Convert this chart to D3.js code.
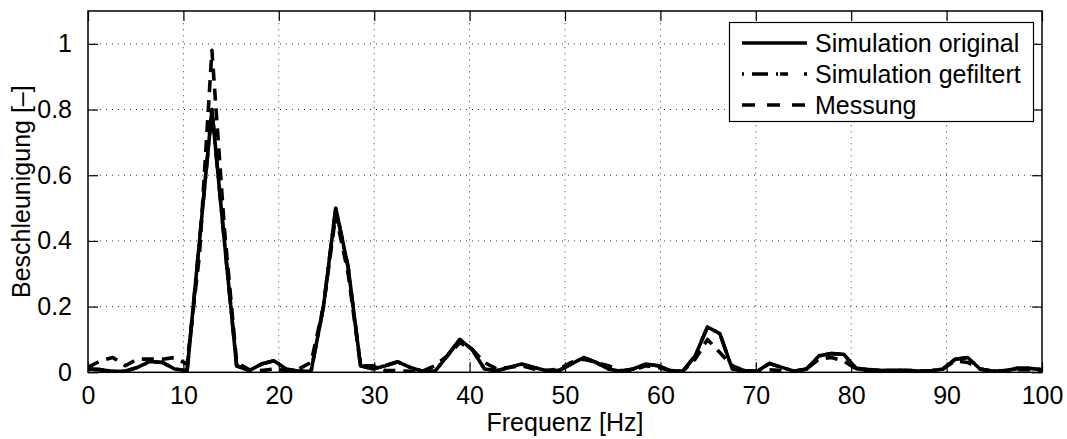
<!DOCTYPE html>
<html>
<head>
<meta charset="utf-8">
<script src="https://cdn.jsdelivr.net/npm/d3@7"></script>
<style>
  html, body { margin: 0; padding: 0; background: #fff; }
  svg { display: block; font-family: "Liberation Sans", Arial, sans-serif; }
</style>
</head>
<body>
<svg id="chart" width="1067" height="439"></svg>
<script>
const freq = [0, 1.30, 2.60, 3.90, 5.19, 6.49, 7.79, 9.09, 10.39, 11.69,
  12.99, 14.29, 15.58, 16.88, 18.18, 19.48, 20.78, 22.08, 23.38, 24.68,
  25.97, 27.27, 28.57, 29.87, 31.17, 32.47, 33.77, 35.06, 36.36, 37.66,
  38.96, 40.26, 41.56, 42.86, 44.16, 45.45, 46.75, 48.05, 49.35, 50.65,
  51.95, 53.25, 54.55, 55.84, 57.14, 58.44, 59.74, 61.04, 62.34, 63.64,
  64.94, 66.23, 67.53, 68.83, 70.13, 71.43, 72.73, 74.03, 75.32, 76.62,
  77.92, 79.22, 80.52, 81.82, 83.12, 84.42, 85.71, 87.01, 88.31, 89.61,
  90.91, 92.21, 93.51, 94.81, 96.10, 97.40, 98.70, 100];

const simOriginal = [0.01, 0.008, 0.003, 0.003, 0.015, 0.033, 0.03, 0.01, 0.005, 0.4,
  0.8, 0.4, 0.02, 0.005, 0.025, 0.035, 0.01, 0.003, 0.003, 0.2,
  0.5, 0.32, 0.02, 0.01, 0.02, 0.032, 0.015, 0.003, 0.003, 0.05,
  0.1, 0.07, 0.01, 0.005, 0.015, 0.025, 0.015, 0.005, 0.005, 0.025,
  0.045, 0.03, 0.01, 0.003, 0.01, 0.025, 0.02, 0.005, 0.003, 0.05,
  0.138, 0.118, 0.01, 0.005, 0.003, 0.027, 0.015, 0.003, 0.01, 0.05,
  0.057, 0.055, 0.012, 0.008, 0.006, 0.005, 0.006, 0.004, 0.004, 0.01,
  0.04, 0.045, 0.01, 0.003, 0.005, 0.012, 0.012, 0.008];

const simGefiltert = [0.01, 0.008, 0.003, 0.003, 0.015, 0.033, 0.03, 0.01, 0.005, 0.4,
  0.8, 0.4, 0.02, 0.005, 0.025, 0.035, 0.01, 0.003, 0.003, 0.2,
  0.5, 0.32, 0.02, 0.01, 0.02, 0.032, 0.015, 0.003, 0.003, 0.05,
  0.1, 0.07, 0.01, 0.005, 0.015, 0.025, 0.015, 0.005, 0.005, 0.025,
  0.045, 0.03, 0.01, 0.003, 0.01, 0.025, 0.02, 0.005, 0.003, 0.05,
  0.138, 0.118, 0.01, 0.005, 0.003, 0.027, 0.015, 0.003, 0.01, 0.05,
  0.057, 0.055, 0.012, 0.008, 0.006, 0.005, 0.006, 0.004, 0.004, 0.01,
  0.04, 0.045, 0.01, 0.003, 0.005, 0.012, 0.012, 0.008];

const messung = [0.015, 0.035, 0.045, 0.02, 0.04, 0.04, 0.04, 0.045, 0.025, 0.36,
  0.98, 0.44, 0.03, 0.008, 0.005, 0.01, 0.005, 0.01, 0.03, 0.2,
  0.48, 0.3, 0.02, 0.02, 0.005, 0.005, 0.003, 0.003, 0.02, 0.05,
  0.09, 0.07, 0.03, 0.01, 0.015, 0.02, 0.01, 0.005, 0.01, 0.03,
  0.04, 0.03, 0.02, 0.005, 0.005, 0.02, 0.015, 0.005, 0.003, 0.04,
  0.1, 0.06, 0.02, 0.005, 0.003, 0.008, 0.005, 0.003, 0.01, 0.04,
  0.045, 0.035, 0.01, 0.005, 0.005, 0.005, 0.005, 0.004, 0.004, 0.01,
  0.035, 0.03, 0.01, 0.003, 0.005, 0.008, 0.008, 0.005];

const xTicks = [0, 10, 20, 30, 40, 50, 60, 70, 80, 90, 100];
const yTicks = [0, 0.2, 0.4, 0.6, 0.8, 1];
const yTickLabels = ["0", "0.2", "0.4", "0.6", "0.8", "1"];
const seriesNames = ["Simulation original", "Simulation gefiltert", "Messung"];
const xLabel = "Frequenz [Hz]";
const yLabel = "Beschleunigung [–]";

const svg = d3.select("#chart");
const L = 88, R = 1042, T = 11, B = 372.3;
const FS = 25;

const x = d3.scaleLinear().domain([0, 100]).range([L, R]);
const y = d3.scaleLinear().domain([0, 1.1]).range([B, T]);

svg.append("rect").attr("width", 1067).attr("height", 439).attr("fill", "#fff");

// grid
const grid = svg.append("g");
xTicks.slice(1, -1).forEach(t => {
  grid.append("line").attr("x1", x(t)).attr("x2", x(t)).attr("y1", B).attr("y2", T)
    .attr("stroke", "#333").attr("stroke-width", 1).attr("stroke-dasharray", "1,5");
});
yTicks.slice(1).forEach(t => {
  grid.append("line").attr("x1", L).attr("x2", R).attr("y1", y(t)).attr("y2", y(t))
    .attr("stroke", "#333").attr("stroke-width", 1).attr("stroke-dasharray", "1,5");
});

// axes (ticks inside, box)
const tickLen = 10;
const xAxisB = d3.axisBottom(x).tickValues(xTicks).tickSize(-tickLen).tickPadding(14).tickFormat(d3.format("d"));
const xAxisT = d3.axisTop(x).tickValues(xTicks).tickSize(-tickLen).tickFormat("");
const yAxisL = d3.axisLeft(y).tickValues(yTicks).tickSize(-tickLen).tickPadding(16)
  .tickFormat((d, i) => yTickLabels[i]);
const yAxisR = d3.axisRight(y).tickValues(yTicks).tickSize(-tickLen).tickFormat("");

function styleAxis(g) {
  g.select(".domain").remove();
  g.selectAll(".tick line").attr("stroke", "#000").attr("stroke-width", 1.2);
  g.selectAll("text").attr("fill", "#000").style("font-size", FS + "px")
    .style("font-family", '"Liberation Sans", Arial, sans-serif');
}
svg.append("g").attr("transform", `translate(0,${B})`).call(xAxisB).call(styleAxis);
svg.append("g").attr("transform", `translate(0,${T})`).call(xAxisT).call(styleAxis);
svg.append("g").attr("transform", `translate(${L},0)`).call(yAxisL).call(styleAxis);
svg.append("g").attr("transform", `translate(${R},0)`).call(yAxisR).call(styleAxis);

// lines
const lineGen = vals => d3.line().x((d, i) => x(freq[i])).y(d => y(d))(vals);
const styles = [
  { data: simOriginal, dash: null },
  { data: simGefiltert, dash: "16,8,2,8" },
  { data: messung, dash: "12,8" }
];
const clip = svg.append("clipPath").attr("id", "clip").append("rect")
  .attr("x", L).attr("y", T - 5).attr("width", R - L).attr("height", B - T + 5);
const lines = svg.append("g").attr("clip-path", "url(#clip)");
styles.forEach(s => {
  lines.append("path").attr("d", lineGen(s.data)).attr("fill", "none")
    .attr("stroke", "#000").attr("stroke-width", 3.6).attr("stroke-linejoin", "round")
    .attr("stroke-dasharray", s.dash);
});

// frame
svg.append("rect").attr("x", L).attr("y", T).attr("width", R - L).attr("height", B - T)
  .attr("fill", "none").attr("stroke", "#000").attr("stroke-width", 1.5);

// legend
const lg = svg.append("g");
const lx = 729.5, ly = 22.5, lw = 304, lh = 99;
lg.append("rect").attr("x", lx).attr("y", ly).attr("width", lw).attr("height", lh)
  .attr("fill", "#fff").attr("stroke", "#000").attr("stroke-width", 1.2);
const rowY = [43, 74, 105];
seriesNames.forEach((name, i) => {
  lg.append("line").attr("x1", 742).attr("x2", 807).attr("y1", rowY[i]).attr("y2", rowY[i])
    .attr("stroke", "#000").attr("stroke-width", 3.6)
    .attr("stroke-dasharray", i === 0 ? null : (i === 1 ? "2,8,16,8,2" : "13,12"));
  lg.append("text").attr("x", 815).attr("y", rowY[i]).attr("dy", "0.35em")
    .style("font-size", FS + "px").attr("fill", "#000").text(name);
});

// axis labels
svg.append("text").attr("x", (L + R) / 2).attr("y", 431).attr("text-anchor", "middle")
  .style("font-size", FS + "px").attr("fill", "#000").text(xLabel);
svg.append("text").attr("transform", `translate(30,${(T + B) / 2}) rotate(-90)`)
  .attr("text-anchor", "middle").style("font-size", FS + "px").attr("fill", "#000").text(yLabel);
</script>
</body>
</html>
